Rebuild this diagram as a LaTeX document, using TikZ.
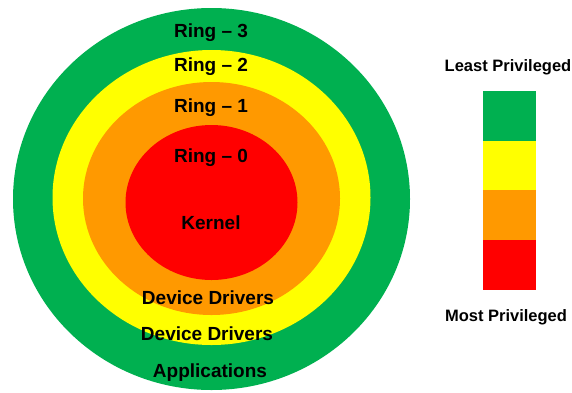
\documentclass[tikz,border=0pt]{standalone}
\usepackage{fontspec}
\setmainfont{Liberation Sans}
\definecolor{rgreen}{HTML}{00B050}
\definecolor{ryellow}{HTML}{FFFF00}
\definecolor{rorange}{HTML}{FF9900}
\definecolor{rred}{HTML}{FF0000}
\tikzset{
  ringlbl/.style={font=\fontsize{19}{22}\selectfont\bfseries, text=black, inner sep=0pt, anchor=center},
  leglbl/.style={font=\fontsize{16.5}{19}\selectfont\bfseries, text=black, inner sep=0pt, anchor=center},
  legbar/.style={draw=none, minimum width=53pt, minimum height=50pt, inner sep=0pt, anchor=north west}
}
\begin{document}
\begin{tikzpicture}[x=1pt,y=-1pt]
\useasboundingbox (0,0) rectangle (572,392);
% rings
\fill[rgreen]  (211.5,199) ellipse [x radius=198.5, y radius=191];
\fill[ryellow] (211.5,197.5) ellipse [x radius=159, y radius=147.5];
\fill[rorange] (211.5,198.5) ellipse [x radius=128.5, y radius=116.5];
\fill[rred]    (211.5,202.5) ellipse [x radius=86, y radius=77.5];
% labels
\node[ringlbl] (r3) at (211,33) {Ring – 3};
\node[ringlbl] (r2) at (211,67) {Ring – 2};
\node[ringlbl] (r1) at (211,108) {Ring – 1};
\node[ringlbl] (r0) at (211,158) {Ring – 0};
\node[ringlbl] (kern) at (211,223) {Kernel};
\node[ringlbl] (dd1) at (208,298) {Device Drivers};
\node[ringlbl] (dd2) at (207,334) {Device Drivers};
\node[ringlbl] (apps) at (210,373) {Applications};
% legend
\node[leglbl] (least) at (508,67) {Least Privileged};
\node[legbar, fill=rgreen]  (bg) at (483,91) {};
\node[legbar, fill=ryellow] (by) at (483,141) {};
\node[legbar, fill=rorange] (bo) at (483,190) {};
\node[legbar, fill=rred]    (br) at (483,240) {};
\node[leglbl] (most) at (506,317) {Most Privileged};
\end{tikzpicture}
\end{document}
